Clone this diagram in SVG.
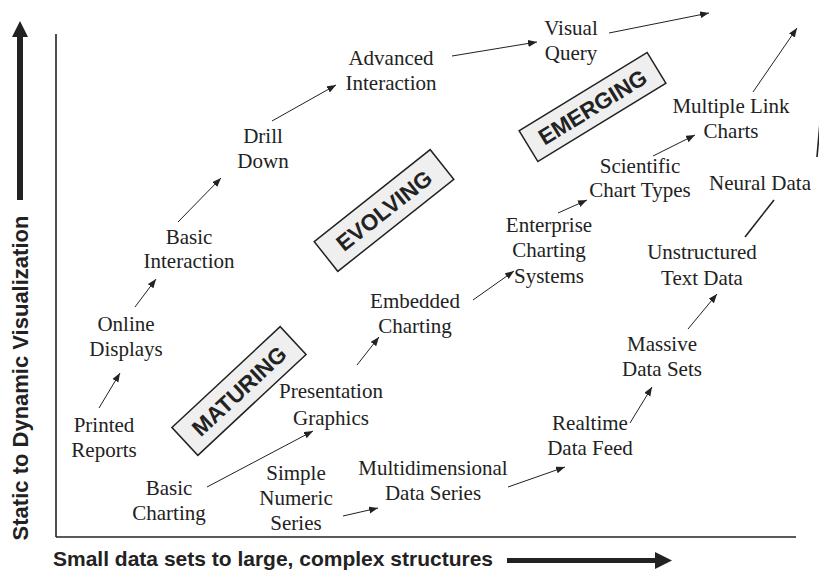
<svg xmlns="http://www.w3.org/2000/svg" width="819" height="572" viewBox="0 0 819 572">
<defs>
<style>
.n text{font-family:"Liberation Serif","Times New Roman",serif;font-size:21px;fill:#222;text-anchor:middle}
.axis{stroke:#222;stroke-width:1.6;fill:none}
.c line{stroke:#222;stroke-width:1;fill:none}
.c line.a{marker-end:url(#ah)}
.c line.t{stroke-width:1.6}
.stage rect{fill:#efefef;stroke:#222;stroke-width:1.5}
.stage text{font-family:"Liberation Sans",Arial,sans-serif;font-weight:bold;font-size:22.5px;fill:#222;text-anchor:middle}
.lbl{font-family:"Liberation Sans",Arial,sans-serif;font-weight:bold;fill:#222}
</style>
<marker id="ah" markerUnits="userSpaceOnUse" markerWidth="10" markerHeight="8" refX="9" refY="3.5" orient="auto">
<path d="M0,0 L9,3.5 L0,7 z" fill="#222"/>
</marker>
</defs>
<rect width="819" height="572" fill="#ffffff"/>

<g id="axes">
<line class="axis" x1="56" y1="34" x2="56" y2="537"/>
<line class="axis" x1="56" y1="537" x2="796" y2="537"/>
<rect x="17" y="36" width="6" height="164" fill="#222"/>
<polygon points="20,21 12,37 28,37" fill="#222"/>
<text class="lbl" font-size="22" text-anchor="middle" transform="translate(28,378) rotate(-90)">Static to Dynamic Visualization</text>
<text class="lbl" font-size="21" x="53" y="566">Small data sets to large, complex structures</text>
<rect x="507" y="558" width="150" height="5" fill="#222"/>
<polygon points="655,552 672,560.5 655,569" fill="#222"/>
</g>

<g id="stages" class="stage">
<g id="maturing" transform="translate(239,391) rotate(-43)"><rect x="-74" y="-19" width="148" height="38"/><text x="0" y="8">MATURING</text></g>
<g id="evolving" transform="translate(384,210.5) rotate(-38.4)"><rect x="-74" y="-19" width="148" height="38"/><text x="0" y="8">EVOLVING</text></g>
<g id="emerging" transform="translate(592.5,107) rotate(-31.4)"><rect x="-75" y="-18" width="150" height="36"/><text x="0" y="8">EMERGING</text></g>
</g>

<g id="connectors" class="c">
<line class="a" x1="99" y1="408" x2="120" y2="373"/>
<line class="a" x1="135" y1="307" x2="156" y2="279"/>
<line class="a" x1="178" y1="222" x2="221" y2="178"/>
<line class="a" x1="272" y1="121" x2="336" y2="85"/>
<line class="a" x1="452" y1="56" x2="537" y2="42"/>
<line class="a" x1="609" y1="33" x2="709" y2="13"/>
<line class="a" x1="207" y1="487" x2="313" y2="431"/>
<line class="a" x1="357" y1="365" x2="379" y2="337"/>
<line class="a" x1="473" y1="300" x2="514" y2="271"/>
<line class="a" x1="558" y1="213" x2="587" y2="200"/>
<line class="a" x1="653" y1="156" x2="695" y2="135"/>
<line class="a" x1="753" y1="92" x2="797" y2="28"/>
<line class="a" x1="343" y1="516" x2="378" y2="508"/>
<line class="a" x1="508" y1="487" x2="565" y2="467"/>
<line class="a" x1="630" y1="423" x2="652" y2="387"/>
<line class="a" x1="688" y1="329" x2="717" y2="294"/>
<line class="t" x1="745" y1="237" x2="774" y2="200"/>
<line class="t" x1="817" y1="157" x2="822" y2="100"/>
</g>

<g id="printed-reports" class="n"><text x="104" y="432">Printed</text><text x="104" y="457">Reports</text></g>
<g id="online-displays" class="n"><text x="126" y="331">Online</text><text x="126" y="356">Displays</text></g>
<g id="basic-interaction" class="n"><text x="189" y="244">Basic</text><text x="189" y="268">Interaction</text></g>
<g id="drill-down" class="n"><text x="263" y="143">Drill</text><text x="263" y="168">Down</text></g>
<g id="advanced-interaction" class="n"><text x="391" y="65">Advanced</text><text x="391" y="90">Interaction</text></g>
<g id="visual-query" class="n"><text x="571" y="35">Visual</text><text x="571" y="60">Query</text></g>
<g id="basic-charting" class="n"><text x="169" y="495">Basic</text><text x="169" y="520">Charting</text></g>
<g id="presentation-graphics" class="n"><text x="331" y="398">Presentation</text><text x="331" y="425">Graphics</text></g>
<g id="embedded-charting" class="n"><text x="415" y="308">Embedded</text><text x="415" y="333">Charting</text></g>
<g id="enterprise-charting" class="n"><text x="549" y="232">Enterprise</text><text x="549" y="257">Charting</text><text x="549" y="283">Systems</text></g>
<g id="scientific-chart-types" class="n"><text x="640" y="173">Scientific</text><text x="640" y="197">Chart Types</text></g>
<g id="multiple-link-charts" class="n"><text x="731" y="113">Multiple Link</text><text x="731" y="138">Charts</text></g>
<g id="simple-numeric-series" class="n"><text x="296" y="480">Simple</text><text x="296" y="505">Numeric</text><text x="296" y="530">Series</text></g>
<g id="multidimensional-data-series" class="n"><text x="433" y="475">Multidimensional</text><text x="433" y="500">Data Series</text></g>
<g id="realtime-data-feed" class="n"><text x="590" y="430">Realtime</text><text x="590" y="455">Data Feed</text></g>
<g id="massive-data-sets" class="n"><text x="662" y="351">Massive</text><text x="662" y="376">Data Sets</text></g>
<g id="unstructured-text-data" class="n"><text x="702" y="259">Unstructured</text><text x="702" y="285">Text Data</text></g>
<g id="neural-data" class="n"><text x="760" y="190">Neural Data</text></g>
</svg>
